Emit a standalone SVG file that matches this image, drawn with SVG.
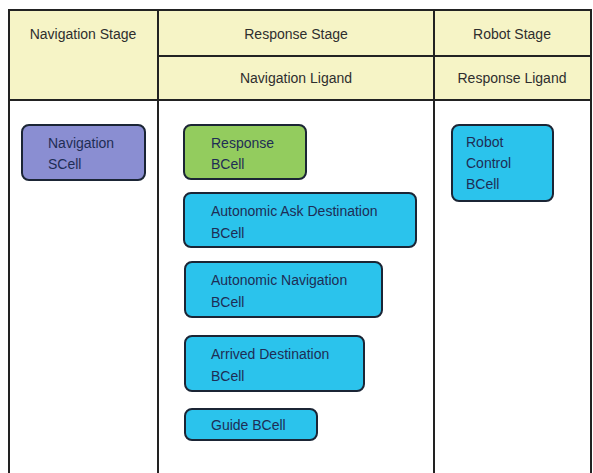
<svg xmlns="http://www.w3.org/2000/svg" width="593" height="473" viewBox="0 0 593 473">
<style>
.hdr{fill:#f6f4c6;stroke:none}
.ln{stroke:#222;stroke-width:2;fill:none}
.ht{font-family:"Liberation Sans",Arial,sans-serif;font-size:14px;fill:#2e2e2e;text-anchor:middle}
.node rect{stroke:#1b2535;stroke-width:2;rx:7;ry:7}
.node text{font-family:"Liberation Sans",Arial,sans-serif;font-size:14px;fill:#1e2d55}
.cyan rect{fill:#2bc3ec}
</style>
<rect width="593" height="473" fill="#ffffff"/>
<g id="table">
<rect class="hdr" x="9" y="10" width="582" height="90"/>
<path class="ln" d="M9,473 V10 H591 V473 M158,10 V473 M434,10 V473 M158,56 H591 M9,100 H591"/>
<text class="ht" x="83" y="39">Navigation Stage</text>
<text class="ht" x="296" y="39">Response Stage</text>
<text class="ht" x="512" y="39">Robot Stage</text>
<text class="ht" x="296" y="83">Navigation Ligand</text>
<text class="ht" x="512" y="83">Response Ligand</text>
</g>
<g id="connectors"></g>
<g id="navigation-scell" class="node">
<rect x="22" y="125" width="123" height="55" fill="#8a8ed2"/>
<text x="48" y="148">Navigation</text>
<text x="48" y="169">SCell</text>
</g>
<g id="response-bcell" class="node">
<rect x="184" y="125" width="122" height="54" fill="#93cc5e"/>
<text x="211" y="148">Response</text>
<text x="211" y="169">BCell</text>
</g>
<g id="autonomic-ask-destination-bcell" class="node cyan">
<rect x="184" y="193" width="232" height="54"/>
<text x="211" y="216">Autonomic Ask Destination</text>
<text x="211" y="238">BCell</text>
</g>
<g id="autonomic-navigation-bcell" class="node cyan">
<rect x="185" y="262" width="197" height="55"/>
<text x="211" y="285">Autonomic Navigation</text>
<text x="211" y="307">BCell</text>
</g>
<g id="arrived-destination-bcell" class="node cyan">
<rect x="185" y="336" width="179" height="55"/>
<text x="211" y="359">Arrived Destination</text>
<text x="211" y="381">BCell</text>
</g>
<g id="guide-bcell" class="node cyan">
<rect x="185" y="409" width="132" height="31"/>
<text x="211" y="430">Guide BCell</text>
</g>
<g id="robot-control-bcell" class="node cyan">
<rect x="452" y="125" width="101" height="76"/>
<text x="466" y="147">Robot</text>
<text x="466" y="168">Control</text>
<text x="466" y="189">BCell</text>
</g>
</svg>
